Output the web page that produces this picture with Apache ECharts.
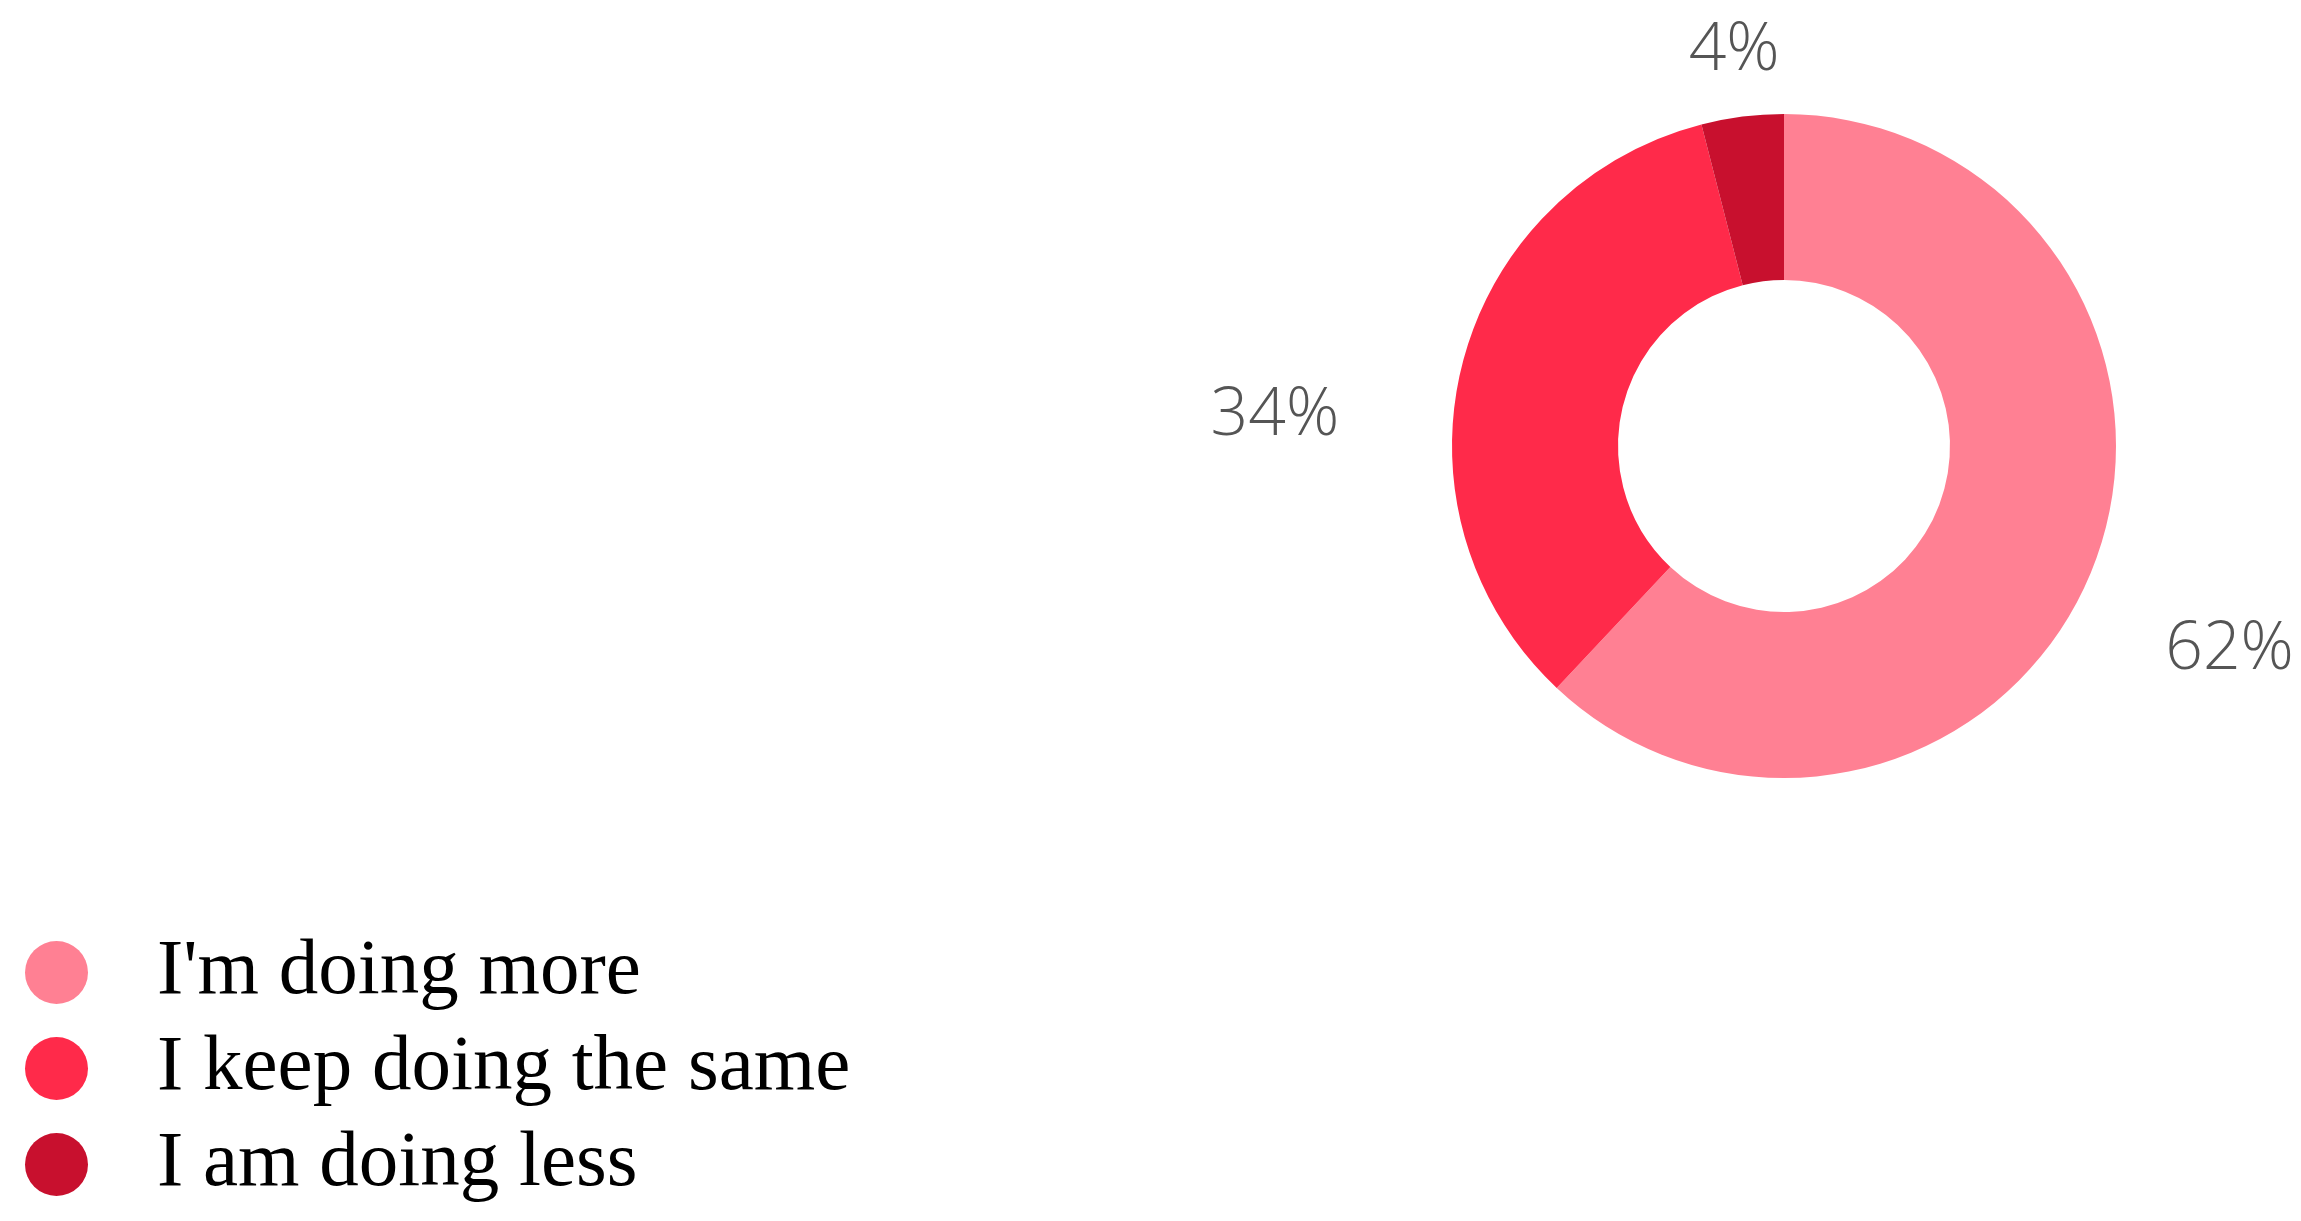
<!DOCTYPE html>
<html>
<head>
<meta charset="utf-8">
<title>Doing more / same / less</title>
<script src="https://cdn.jsdelivr.net/npm/echarts@6/dist/echarts.min.js"></script>
<style>
  html, body { margin: 0; padding: 0; background: #fff; }
  #chart { width: 2301px; height: 1221px; }
</style>
</head>
<body>
<div id="chart"></div>
<script>
  // data
  var categories = ["I'm doing more", 'I keep doing the same', 'I am doing less']
  var shares = [62, 34, 4]
  var colors = ['#ff8093', '#ff2a4a', '#c8102e']

  // where the percentage labels sit: distance from centre (px) and angle nudge (deg)
  var labelDist = [490, 510, 398]
  var labelTurn = [3, -11, 0]

  var center = [1784, 446]
  var total = shares.reduce(function (a, b) { return a + b }, 0)

  function midAngle(i) {
    var before = 0
    for (var k = 0; k < i; k++) before += shares[k]
    return (before + shares[i] / 2) / total * 360
  }

  var chart = echarts.init(document.getElementById('chart'))

  chart.setOption({
    animation: false,
    legend: {
      orient: 'vertical',
      left: 20,
      top: 920,
      padding: 5,
      icon: 'circle',
      itemWidth: 63,
      itemHeight: 63,
      itemGap: 1,
      data: categories,
      textStyle: {
        fontFamily: 'Liberation Serif',
        fontSize: 79,
        lineHeight: 63,
        color: '#000',
        padding: [32, 0, 0, 64]
      }
    },
    series: [{
      type: 'pie',
      center: center,
      radius: [166, 332],
      startAngle: 90,
      clockwise: true,
      avoidLabelOverlap: false,
      itemStyle: { borderWidth: 0 },
      emphasis: { disabled: true },
      label: {
        show: true,
        position: 'outside',
        formatter: '{c}%',
        fontFamily: 'Open Sans',
        fontWeight: 300,
        fontSize: 66,
        color: '#555'
      },
      labelLine: { show: false },
      labelLayout: function (params) {
        var i = params.dataIndex
        var a = (midAngle(i) + labelTurn[i]) * Math.PI / 180
        return {
          x: center[0] + labelDist[i] * Math.sin(a),
          y: center[1] - labelDist[i] * Math.cos(a),
          align: 'center',
          verticalAlign: 'middle'
        }
      },
      data: categories.map(function (name, i) {
        return { name: name, value: shares[i], itemStyle: { color: colors[i] } }
      })
    }]
  })
</script>
</body>
</html>
